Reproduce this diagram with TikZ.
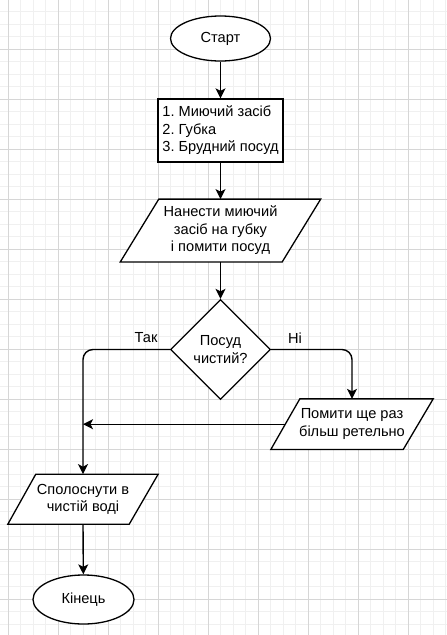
\documentclass[tikz,border=0pt]{standalone}
\usepackage{fontspec}
\setmainfont{Liberation Sans}
\usetikzlibrary{shapes.geometric,arrows.meta}
\pgfdeclarelayer{bg}
\pgfsetlayers{bg,main}
\frenchspacing
\begin{document}
\begin{tikzpicture}[x=1pt,y=-1pt,
  every node/.style={font=\fontsize{14.6}{17.5}\selectfont},
  shp/.style={draw=black,fill=white,line width=1.3pt},
  term/.style={shp,ellipse,minimum width=100pt,minimum height=45pt,inner sep=0pt},
  listbox/.style={shp,rectangle,minimum height=63pt,minimum width=125pt,inner xsep=3pt,inner ysep=0pt,align=left},
  decision/.style={shp,diamond,minimum width=100pt,minimum height=100pt,inner sep=0pt,aspect=1,align=center},
  paratext/.style={rectangle,inner sep=0pt,align=center},
  conn/.style={line width=1.4pt,-{Stealth[length=10pt,width=10pt,inset=2.5pt]}},
  minorgrid/.style={draw=black!6,line width=1pt},
  majorgrid/.style={draw=black!16,line width=1pt},
  lbl/.style={inner sep=0pt}
]
\useasboundingbox (0,0) rectangle (447,635);
\begin{pgfonlayer}{bg}
  \fill[white] (0,0) rectangle (447,635);
  \foreach \i in {0,...,35} \draw[minorgrid] ({8.3+12.5*\i},0) -- ({8.3+12.5*\i},635);
  \foreach \j in {1,...,50} \draw[minorgrid] (0,{-0.7+12.5*\j}) -- (447,{-0.7+12.5*\j});
  \foreach \i in {0,...,8} \draw[majorgrid] ({8.3+50*\i},0) -- ({8.3+50*\i},635);
  \foreach \j in {1,...,12} \draw[majorgrid] (0,{-0.7+50*\j}) -- (447,{-0.7+50*\j});
\end{pgfonlayer}

\node[term] (start) at (220.5,38.5) {Старт};
\node[listbox] (box) at (220.5,130.5) {1. Миючий засіб\\2. Губка\\3. Брудний посуд};
\node[paratext,minimum width=200pt,minimum height=62.4pt] (p1) at (220.5,230.5) {Нанести миючий\\засіб на губку\\ і помити посуд};
\node[decision] (dec) at (220.5,349.5) {Посуд\\чистий?};
\node[paratext,minimum width=162pt,minimum height=50.3pt] (p2) at (352,424.2) {Помити ще раз\\більш ретельно};
\node[paratext,minimum width=150pt,minimum height=49.7pt] (p3) at (83,499.2) {Сполоснути в\\чистій воді};
\node[term,minimum width=101pt,minimum height=49pt] (end) at (83.5,599.5) {Кінець};
\node[lbl] (yes) at (146,338) {Так};
\node[lbl] (no) at (295,338) {Ні};

\begin{pgfonlayer}{bg}
  \draw[shp] ([xshift=38.5pt]p1.north west) -- (p1.north east) -- ([xshift=-38.5pt]p1.south east) -- (p1.south west) -- cycle;
  \draw[shp] ([xshift=29pt]p2.north west) -- (p2.north east) -- ([xshift=-30pt]p2.south east) -- (p2.south west) -- cycle;
  \draw[shp] ([xshift=28pt]p3.north west) -- (p3.north east) -- ([xshift=-29pt]p3.south east) -- (p3.south west) -- cycle;
\end{pgfonlayer}

\coordinate (p2left) at ([xshift=14.5pt]p2.west);
\coordinate (joint) at (p3.north |- p2.west);

\draw[conn] (start) -- (box);
\draw[conn] (box) -- (p1.north);
\draw[conn] (p1.south) -- (dec);
\draw[conn,rounded corners=10pt] (dec.west) -| (p3.north);
\draw[conn,rounded corners=10pt] (dec.east) -| (p2.north);
\draw[conn] (p2left) -- (joint);
\draw[conn] (p3.south) -- (end);
\end{tikzpicture}
\end{document}
